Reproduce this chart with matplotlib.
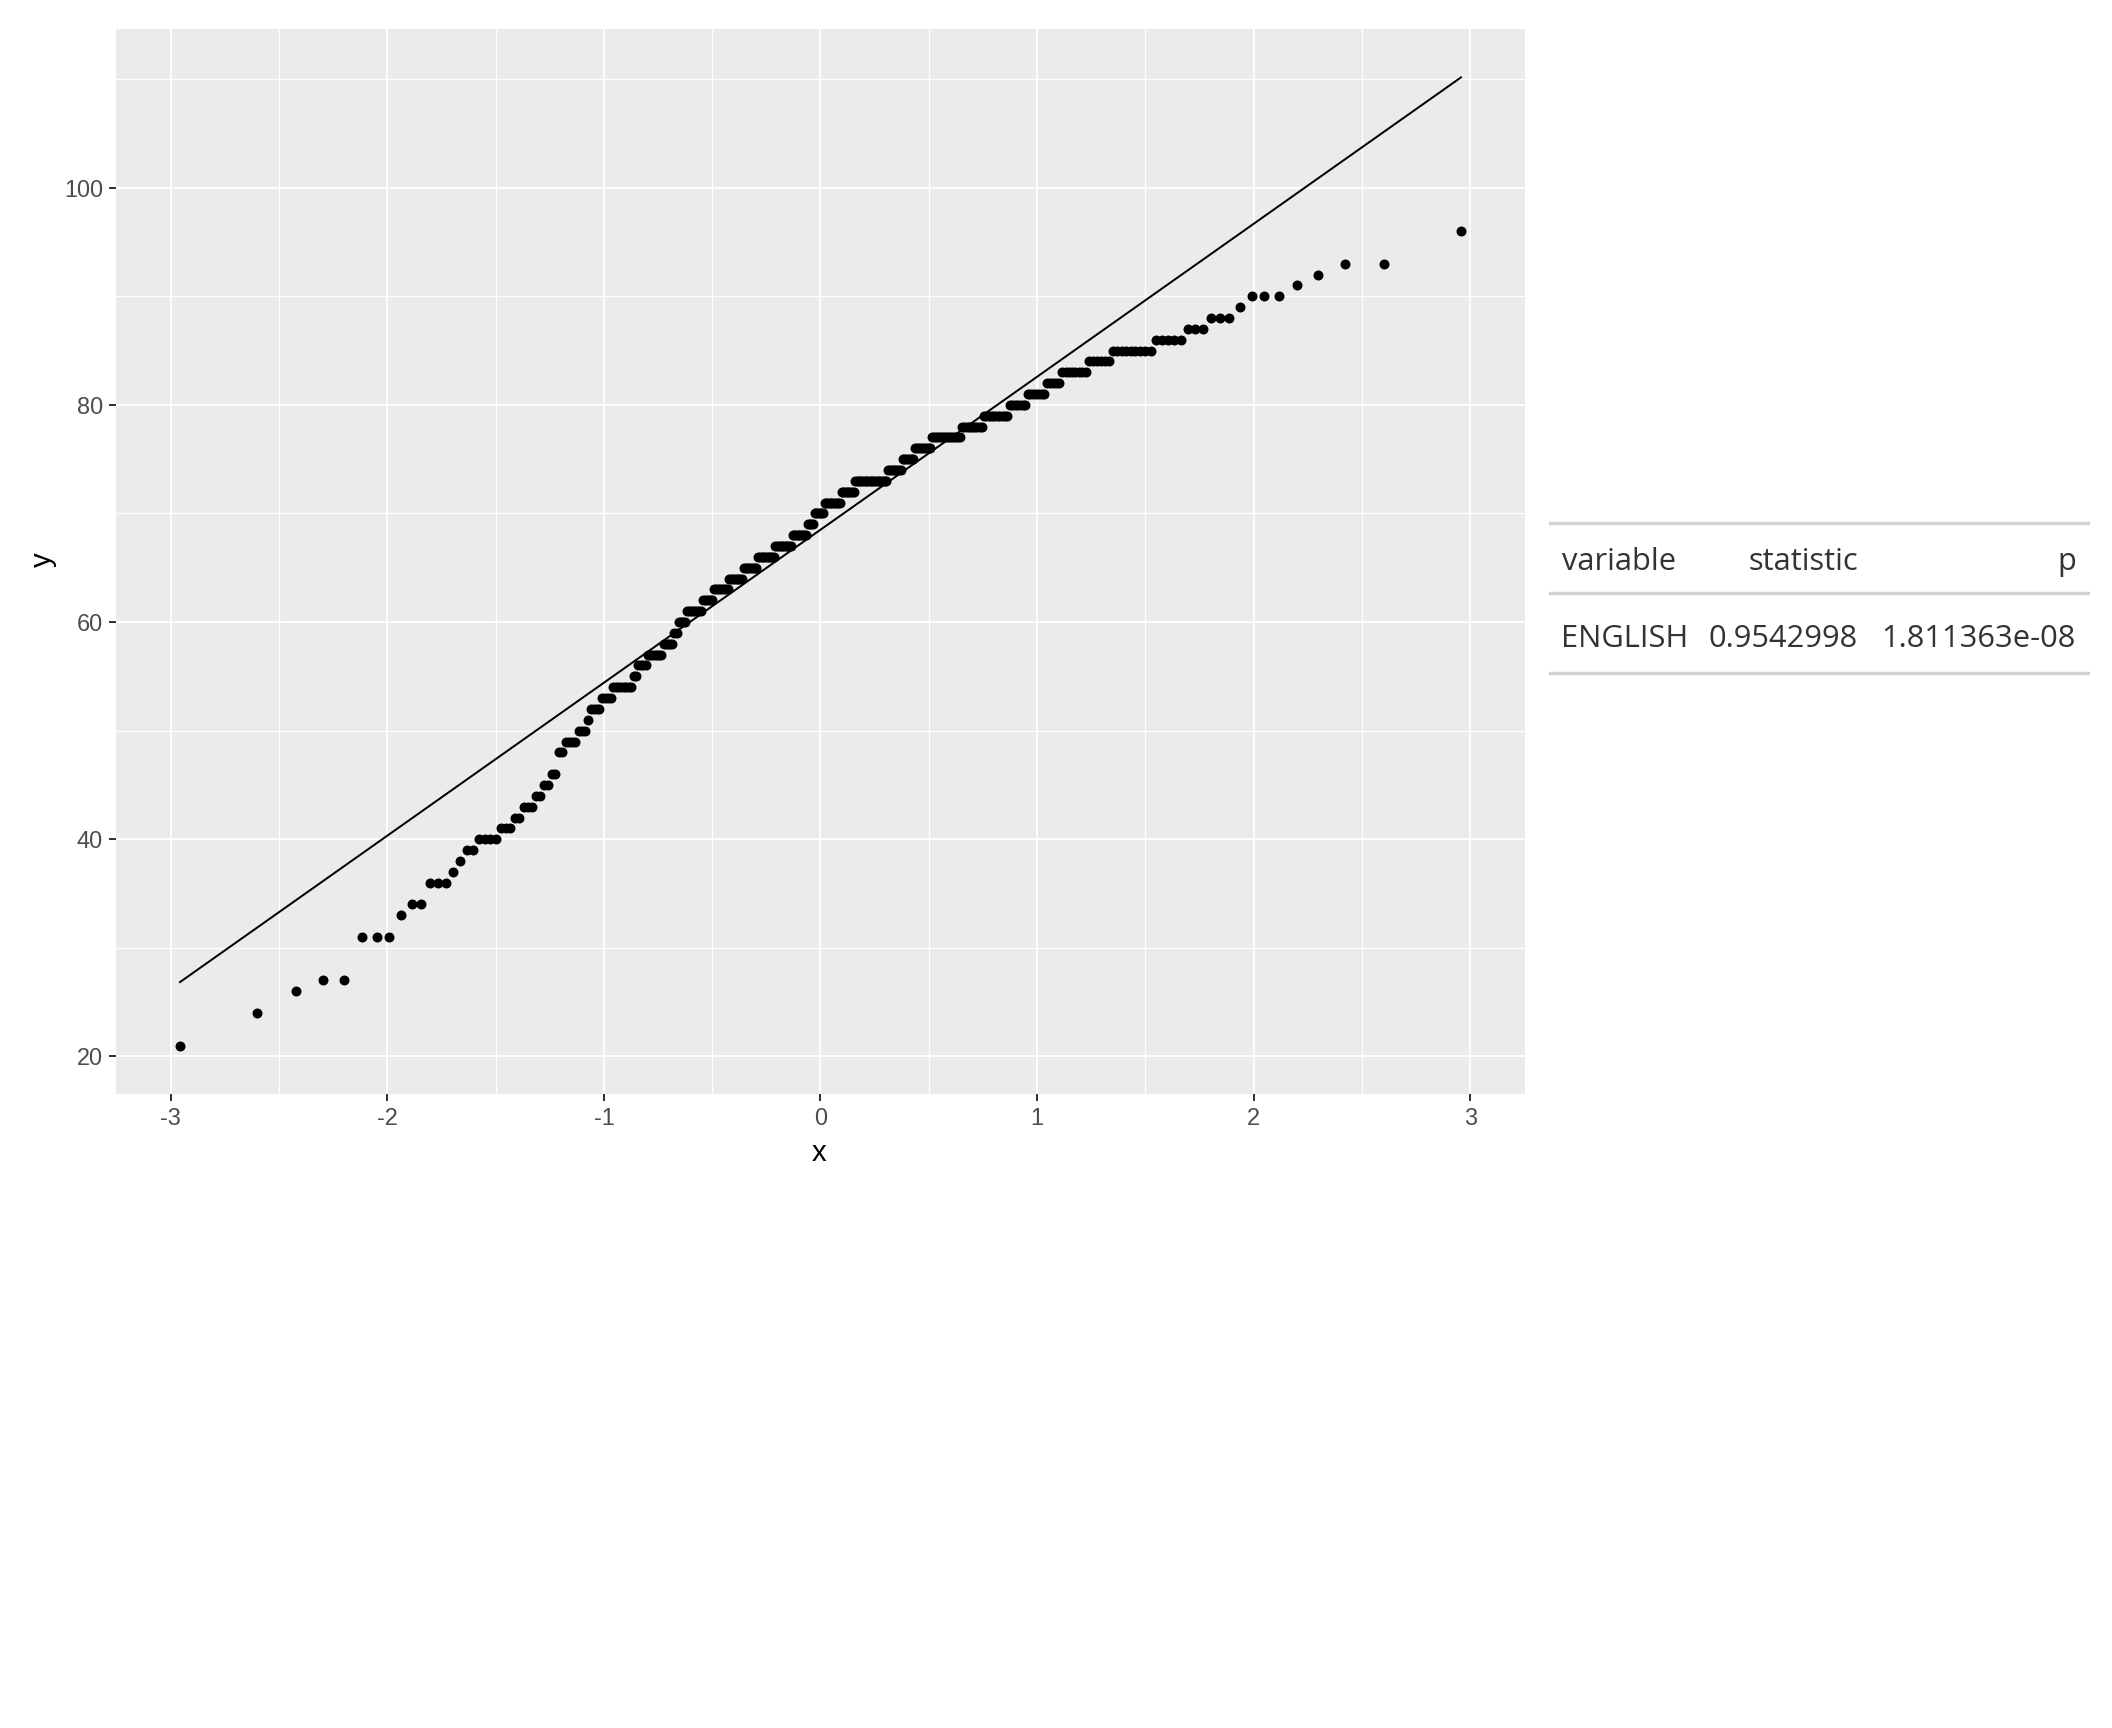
import numpy as np
import matplotlib
matplotlib.use('Agg')
import matplotlib.pyplot as plt
from matplotlib.lines import Line2D
from statistics import NormalDist

# ENGLISH scores (distinct values) and how many students got each
scores = [21, 24, 26, 27, 31, 33, 34, 36, 37, 38, 39, 40, 41, 42, 43, 44, 45, 46,
          48, 49, 50, 51, 52, 53, 54, 55, 56, 57, 58, 59, 60, 61, 62, 63, 64, 65,
          66, 67, 68, 69, 70, 71, 72, 73, 74, 75, 76, 77, 78, 79, 80, 81, 82, 83,
          84, 85, 86, 87, 88, 89, 90, 91, 92, 93, 96]
counts = [1, 1, 1, 2, 3, 1, 2, 3, 1, 1, 2, 4, 3, 2, 3, 2, 2, 2,
          2, 4, 3, 1, 4, 4, 8, 2, 4, 7, 5, 2, 4, 8, 6, 8, 8, 8,
          10, 10, 9, 4, 6, 10, 8, 19, 8, 7, 9, 15, 10, 11, 7, 7, 5, 8,
          6, 9, 5, 3, 3, 1, 3, 1, 1, 2, 1]

# Shapiro-Wilk result table
tbl_header = ['variable', 'statistic', 'p']
tbl_row = ['ENGLISH', '0.9542998', '1.811363e-08']

plt.rcParams['axes.unicode_minus'] = False
plt.rcParams['font.family'] = ['Liberation Sans', 'DejaVu Sans']

W, H = 2112, 1728
fig = plt.figure(figsize=(11, 9), dpi=192)


def fx(px):
    return px / W


def fy(py):
    return 1 - py / H


ax = fig.add_axes([fx(116), fy(1094), fx(1525) - fx(116), fy(29) - fy(1094)])

# --- QQ data ---
y = np.repeat(scores, counts)
n = len(y)
nd = NormalDist()
x = np.array([nd.inv_cdf((i - 0.5) / n) for i in range(1, n + 1)])

# reference line through the quartiles (like stat_qq_line)
q1, q3 = np.percentile(y, [25, 75])
z1, z3 = nd.inv_cdf(0.25), nd.inv_cdf(0.75)
slope = (q3 - q1) / (z3 - z1)
icpt = q1 - slope * z1
line_x = np.array([x.min(), x.max()])
line_y = icpt + slope * line_x

ax.set_facecolor('#EBEBEB')
for s in ax.spines.values():
    s.set_visible(False)
ax.set_axisbelow(True)
ax.grid(which='major', color='white', lw=0.7)
ax.grid(which='minor', color='white', lw=0.45)

ax.plot(line_x, line_y, color='black', lw=0.75, zorder=2)
ax.scatter(x, y, s=14, c='black', linewidths=0, zorder=3)

# ggplot style 5% expansion
xr = x.max() - x.min()
ax.set_xlim(x.min() - 0.05 * xr, x.max() + 0.05 * xr)
ylo = min(y.min(), line_y.min())
yhi = max(y.max(), line_y.max())
ax.set_ylim(ylo - 0.05 * (yhi - ylo), yhi + 0.05 * (yhi - ylo))

ax.set_xticks(range(-3, 4))
ax.set_xticks(np.arange(-2.5, 3, 1), minor=True)
ax.set_yticks([20, 40, 60, 80, 100])
ax.set_yticks([30, 50, 70, 90, 110], minor=True)
ax.tick_params(which='major', length=2.75, width=0.75, color='#333333',
               labelsize=8.8, labelcolor='#4D4D4D', pad=2.2)
ax.tick_params(which='minor', length=0)

fig.text(fx(819.5), fy(1161), 'x', ha='center', va='baseline', fontsize=11)
fig.text(fx(51), fy(560), 'y', rotation=90, rotation_mode='anchor',
         ha='center', va='baseline', fontsize=11)

# --- table on the right ---
for py in [523, 593, 673]:
    fig.add_artist(Line2D([fx(1550), fx(2088)], [fy(py), fy(py)],
                          color='#D3D3D3', lw=1.25))

col_x = [1561.5, 1858, 2076]
col_ha = ['left', 'right', 'right']
for txt, cx, ha in zip(tbl_header, col_x, col_ha):
    fig.text(fx(cx), fy(570), txt, ha=ha, va='baseline', fontsize=11.6,
             family='Open Sans', color='#333333')
for txt, cx, ha in zip(tbl_row, col_x, col_ha):
    fig.text(fx(cx), fy(647), txt, ha=ha, va='baseline', fontsize=11.6,
             family='Open Sans', color='#333333')

fig.savefig('out.png', dpi=192)
